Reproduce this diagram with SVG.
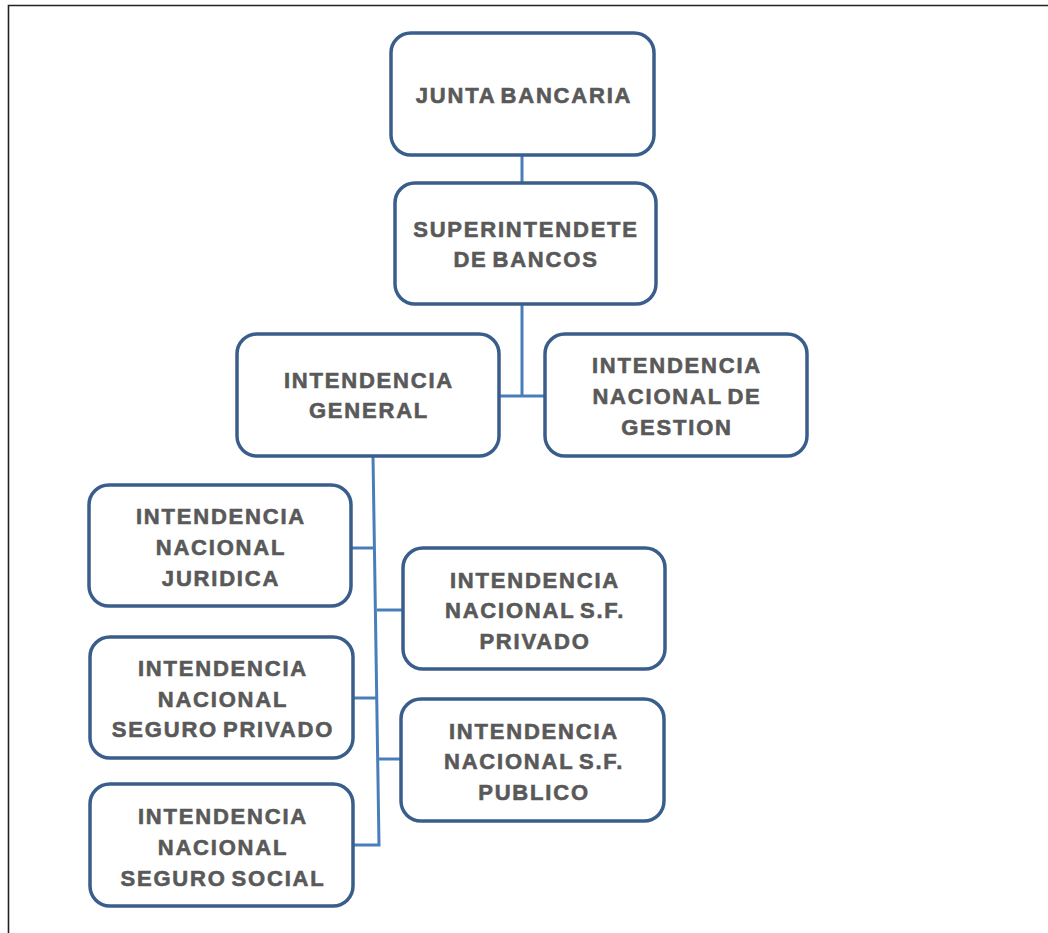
<svg xmlns="http://www.w3.org/2000/svg" width="1048" height="933" viewBox="0 0 1048 933">
<style>
.box{fill:#fff;stroke:#3A5E8C;stroke-width:3.5}
.t{font-family:"Liberation Sans",Arial,sans-serif;font-weight:bold;font-size:22px;fill:#595959;stroke:#595959;stroke-width:0.6;text-anchor:middle;letter-spacing:1.8px;word-spacing:-3px}
.c{fill:none;stroke:#4A7EBB;stroke-width:3}
</style>
<rect x="0" y="0" width="1048" height="933" fill="#fff"/>
<path d="M8.5,933 V5.5 H1048" fill="none" stroke="#222" stroke-width="1.6"/>
<g id="connectors">
<path class="c" d="M522,155 V183"/>
<path class="c" d="M522,304 V396 M499,396 H545"/>
<path class="c" d="M373,456 L379,845 H353"/>
<path class="c" d="M351,548 H375"/>
<path class="c" d="M377,610 H403"/>
<path class="c" d="M353,698 H378"/>
<path class="c" d="M378,759 H401"/>
</g>
<g id="n1"><rect class="box" x="391" y="33" width="263" height="122" rx="20"/>
<text class="t" x="524" y="103">JUNTA BANCARIA</text></g>
<g id="n2"><rect class="box" x="395" y="183" width="261" height="121" rx="20"/>
<text class="t" x="526" y="237">SUPERINTENDETE</text><text class="t" x="526" y="267">DE BANCOS</text></g>
<g id="n3"><rect class="box" x="237" y="334" width="262" height="122" rx="20"/>
<text class="t" x="369" y="388">INTENDENCIA</text><text class="t" x="369" y="418">GENERAL</text></g>
<g id="n4"><rect class="box" x="545" y="334" width="262" height="122" rx="20"/>
<text class="t" x="677" y="373">INTENDENCIA</text><text class="t" x="677" y="404">NACIONAL DE</text><text class="t" x="677" y="435">GESTION</text></g>
<g id="n5"><rect class="box" x="89" y="485" width="262" height="121" rx="20"/>
<text class="t" x="221" y="524">INTENDENCIA</text><text class="t" x="221" y="555">NACIONAL</text><text class="t" x="221" y="586">JURIDICA</text></g>
<g id="n6"><rect class="box" x="403" y="548" width="262" height="121" rx="20"/>
<text class="t" x="535" y="588">INTENDENCIA</text><text class="t" x="535" y="618">NACIONAL S.F.</text><text class="t" x="535" y="649">PRIVADO</text></g>
<g id="n7"><rect class="box" x="90" y="637" width="263" height="121" rx="20"/>
<text class="t" x="223" y="676">INTENDENCIA</text><text class="t" x="223" y="707">NACIONAL</text><text class="t" x="223" y="737">SEGURO PRIVADO</text></g>
<g id="n8"><rect class="box" x="401" y="699" width="263" height="122" rx="20"/>
<text class="t" x="534" y="739">INTENDENCIA</text><text class="t" x="534" y="769">NACIONAL S.F.</text><text class="t" x="534" y="800">PUBLICO</text></g>
<g id="n9"><rect class="box" x="90" y="784" width="263" height="122" rx="20"/>
<text class="t" x="223" y="824">INTENDENCIA</text><text class="t" x="223" y="855">NACIONAL</text><text class="t" x="223" y="886">SEGURO SOCIAL</text></g>
</svg>
